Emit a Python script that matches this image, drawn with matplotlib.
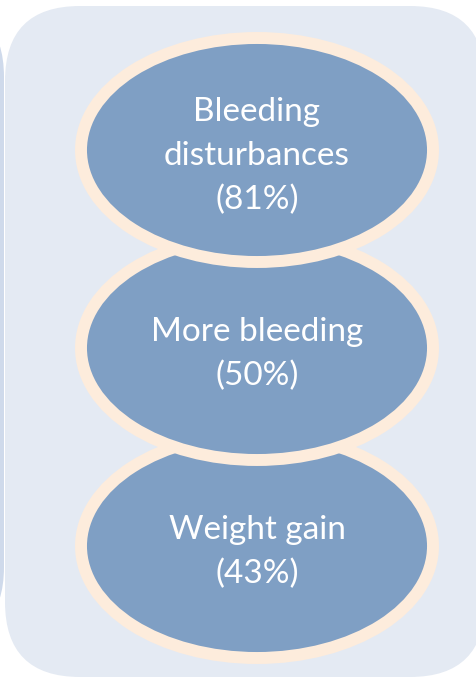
import matplotlib.pyplot as plt
from matplotlib.patches import Ellipse, FancyBboxPatch

# side effects reported and share of women
labels = ["Bleeding\ndisturbances", "More bleeding", "Weight gain"]
percents = [81, 50, 43]

fill_col = "#7f9fc4"
edge_col = "#fdecdc"
back_col = "#e4eaf3"

fig = plt.figure(figsize=(4.77, 6.78), dpi=100)
ax = fig.add_axes([0, 0, 1, 1])
ax.set_xlim(0, 477)
ax.set_ylim(678, 0)
ax.axis("off")

# neighbouring shape just visible on the left
ax.add_patch(FancyBboxPatch((-300, 2), 304, 640, boxstyle="round,pad=0,rounding_size=75",
                            fc="#cfdaeb", ec="none"))
# panel background
ax.add_patch(FancyBboxPatch((5, 6), 480, 671, boxstyle="round,pad=0,rounding_size=75",
                            fc=back_col, ec="none"))

cx = 257
cy0 = 150
step = 198
# bottom first so each upper ellipse overlaps the one below
for i in reversed(range(len(labels))):
    cy = cy0 + i * step
    ax.add_patch(Ellipse((cx, cy), 352, 224, fc=fill_col, ec=edge_col, lw=8.6))
    ax.text(cx, cy + 6, "{}\n({}%)".format(labels[i], percents[i]), ha="center", va="center",
            color="white", fontsize=24, family="Lato", linespacing=1.58)

fig.savefig("out.png", dpi=100)
